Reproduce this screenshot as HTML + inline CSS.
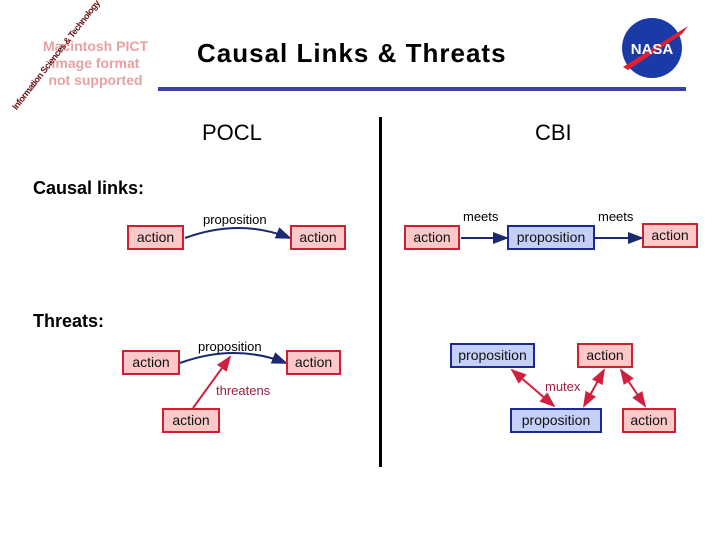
<!DOCTYPE html>
<html><head><style>
body{margin:0;width:720px;height:540px;background:#fff;position:relative;overflow:hidden;font-family:"Liberation Sans",sans-serif}
.a{position:absolute}
.b{position:absolute;box-sizing:border-box;border:2px solid #d02030;background:#fcc8c8;font-size:14px;color:#111;text-align:center;line-height:21px}
.p{background:#c4d0f8;border-color:#1a2a90}
.t{position:absolute;font-size:13px;white-space:nowrap}
</style></head><body>
<div class="a" style="left:33px;top:38px;color:#e8a0a0;font-weight:bold;font-size:14px;line-height:17px;text-align:center;width:125px">Macintosh PICT<br>image format<br>not supported</div>
<div class="a" style="left:-12px;top:50px;transform:rotate(-52deg);font-size:9px;font-weight:bold;color:#6a1010;white-space:nowrap;letter-spacing:-0.5px">Information Sciences &amp; Technology</div>
<div class="a" style="left:197px;top:38px;font-size:26px;font-weight:bold;color:#000;letter-spacing:1px">Causal Links &amp; Threats</div>
<div class="a" style="left:158px;top:87px;width:528px;height:4px;background:#3a40b0"></div>
<svg class="a" style="left:618px;top:12px" width="72" height="72"><ellipse cx="34" cy="36" rx="30" ry="30" fill="#1a3aa8"/><path d="M5 55 L70 14 L64 22 L10 58Z" fill="#e02030"/><text x="34" y="42" font-family="Liberation Sans" font-size="15" font-weight="bold" fill="#fff" text-anchor="middle">NASA</text></svg>
<div class="a" style="left:379px;top:117px;width:3px;height:350px;background:#000"></div>
<div class="a" style="left:202px;top:120px;font-size:22px">POCL</div>
<div class="a" style="left:535px;top:120px;font-size:22px">CBI</div>
<div class="a" style="left:33px;top:178px;font-size:18px;font-weight:bold">Causal links:</div>
<div class="a" style="left:33px;top:311px;font-size:18px;font-weight:bold">Threats:</div>
<svg class="a" style="left:0;top:0" width="720" height="540">
<defs><marker id="m" markerWidth="8" markerHeight="8" refX="7" refY="4" orient="auto"><path d="M0 1 L8 4 L0 7Z" fill="#1a2a70"/></marker>
<marker id="r" markerWidth="8" markerHeight="8" refX="7" refY="4" orient="auto-start-reverse"><path d="M0 1 L8 4 L0 7Z" fill="#d02040"/></marker></defs>
<path d="M185 238 Q240 218 290 238" stroke="#1a2a70" stroke-width="2" fill="none" marker-end="url(#m)"/>
<path d="M180 363 Q235 343 286 363" stroke="#1a2a70" stroke-width="2" fill="none" marker-end="url(#m)"/>
<line x1="461" y1="238" x2="507" y2="238" stroke="#1a2a70" stroke-width="2" marker-end="url(#m)"/>
<line x1="595" y1="238" x2="642" y2="238" stroke="#1a2a70" stroke-width="2" marker-end="url(#m)"/>
<line x1="193" y1="408" x2="230" y2="357" stroke="#d02040" stroke-width="2" marker-end="url(#r)"/>
<line x1="512" y1="370" x2="554" y2="406" stroke="#d02040" stroke-width="2" marker-start="url(#r)" marker-end="url(#r)"/>
<line x1="604" y1="370" x2="584" y2="406" stroke="#d02040" stroke-width="2" marker-start="url(#r)" marker-end="url(#r)"/>
<line x1="621" y1="370" x2="645" y2="406" stroke="#d02040" stroke-width="2" marker-start="url(#r)" marker-end="url(#r)"/>
</svg>
<div class="t" style="left:203px;top:212px">proposition</div>
<div class="t" style="left:463px;top:209px">meets</div>
<div class="t" style="left:598px;top:209px">meets</div>
<div class="t" style="left:198px;top:339px">proposition</div>
<div class="t" style="left:216px;top:383px;color:#a02040">threatens</div>
<div class="t" style="left:545px;top:379px;color:#a02040">mutex</div>
<div class="b" style="left:127px;top:225px;width:57px;height:25px">action</div>
<div class="b" style="left:290px;top:225px;width:56px;height:25px">action</div>
<div class="b" style="left:404px;top:225px;width:56px;height:25px">action</div>
<div class="b p" style="left:507px;top:225px;width:88px;height:25px">proposition</div>
<div class="b" style="left:642px;top:223px;width:56px;height:25px">action</div>
<div class="b" style="left:122px;top:350px;width:58px;height:25px">action</div>
<div class="b" style="left:286px;top:350px;width:55px;height:25px">action</div>
<div class="b" style="left:162px;top:408px;width:58px;height:25px">action</div>
<div class="b p" style="left:450px;top:343px;width:85px;height:25px">proposition</div>
<div class="b" style="left:577px;top:343px;width:56px;height:25px">action</div>
<div class="b p" style="left:510px;top:408px;width:92px;height:25px">proposition</div>
<div class="b" style="left:622px;top:408px;width:54px;height:25px">action</div>
</body></html>
